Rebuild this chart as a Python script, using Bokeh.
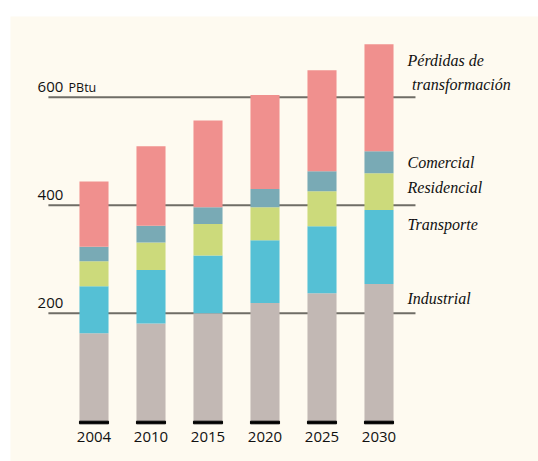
from bokeh.plotting import figure
from bokeh.models import ColumnDataSource, Range1d
from bokeh.core.properties import value
from bokeh.embed import file_html
from bokeh.resources import INLINE

# ---- data (PBtu) ----
years = ["2004", "2010", "2015", "2020", "2025", "2030"]
industrial = [163, 181, 200, 219, 237, 254]
transporte = [87, 99, 107, 116, 124, 137]
residencial = [46, 51, 58, 61, 65, 68]
comercial = [27, 31, 31, 34, 37, 41]
perdidas = [121, 147, 161, 174, 187, 198]
y_ticks = [200, 400, 600]
y_unit = "PBtu"
series_labels = ["Industrial", "Transporte", "Residencial", "Comercial",
                 "Pérdidas de", "transformación"]

colors = ["#c2b8b4", "#55c0d5", "#ccda7b", "#79aab5", "#f0908e"]
cream = "#fefaf0"
grid_col = "#6f6d66"
text_col = "#111111"

# ---- layout geometry ----
W, H = 528, 445
px_x = 57.0          # pixels per category step
px_y = 0.54          # pixels per PBtu
x0_px = 83.5         # pixel of first bar centre inside frame
zero_px = 404.7      # pixel of value 0 from top of frame
bar_w = 0.51
shift = 5            # text baseline correction (px)

xs = list(range(len(years)))
src = ColumnDataSource(dict(x=xs, year=years, Industrial=industrial,
                            Transporte=transporte, Residencial=residencial,
                            Comercial=comercial, Perdidas=perdidas))

p = figure(width=W, height=H, output_backend="svg", toolbar_location=None,
           x_axis_location=None, y_axis_location=None,
           x_range=Range1d(-x0_px / px_x, (W - x0_px) / px_x),
           y_range=Range1d(-(H - zero_px) / px_y, zero_px / px_y),
           min_border=0, margin=(16, 0, 0, 10))
p.background_fill_color = cream
p.border_fill_color = cream
p.outline_line_color = None
p.grid.visible = False

# grid lines (behind bars)
p.segment(x0=-0.8, x1=5.64, y0=y_ticks, y1=y_ticks, line_width=2, line_color=grid_col)

# stacked bars
p.vbar_stack(["Industrial", "Transporte", "Residencial", "Comercial", "Perdidas"],
             x="x", width=bar_w, color=colors, line_color=None, source=src)

# black base under each bar
p.vbar(x=xs, top=0, bottom=-2.6 / px_y, width=bar_w, color="black")

# y tick labels
p.text(x=[-0.99] * len(y_ticks), y=[v + (5 + shift) / px_y for v in y_ticks],
       text=[str(v) for v in y_ticks], text_font=value("Open Sans"),
       text_font_size="15px", text_color=text_col, text_baseline="alphabetic",
       text_align="left")
p.text(x=[-0.99], y=[y_ticks[-1] + (5 + shift) / px_y], text=[y_unit], x_offset=31,
       text_font=value("Open Sans"), text_font_size="12.5px", text_color=text_col,
       text_baseline="alphabetic", text_align="left")

# x labels
p.text(x=xs, y=[(-21 + shift) / px_y] * len(xs), text=years, text_font=value("Open Sans"),
       text_font_size="15px", text_color=text_col, text_baseline="alphabetic",
       text_align="center")

# series labels on right
lab_x = [5.5, 5.5, 5.5, 5.5, 5.5, 5.58]
lab_y_px = [302.7, 229.3, 191.7, 167.3, 65.0, 89.0]
lab_y = [(420.7 - v + shift) / px_y for v in lab_y_px]
p.text(x=lab_x, y=lab_y, text=series_labels, text_font=value("Liberation Serif"),
       text_font_style="italic", text_font_size="16px", text_color=text_col,
       text_baseline="alphabetic", text_align="left")

open("out.html", "w").write(file_html(p, INLINE))
